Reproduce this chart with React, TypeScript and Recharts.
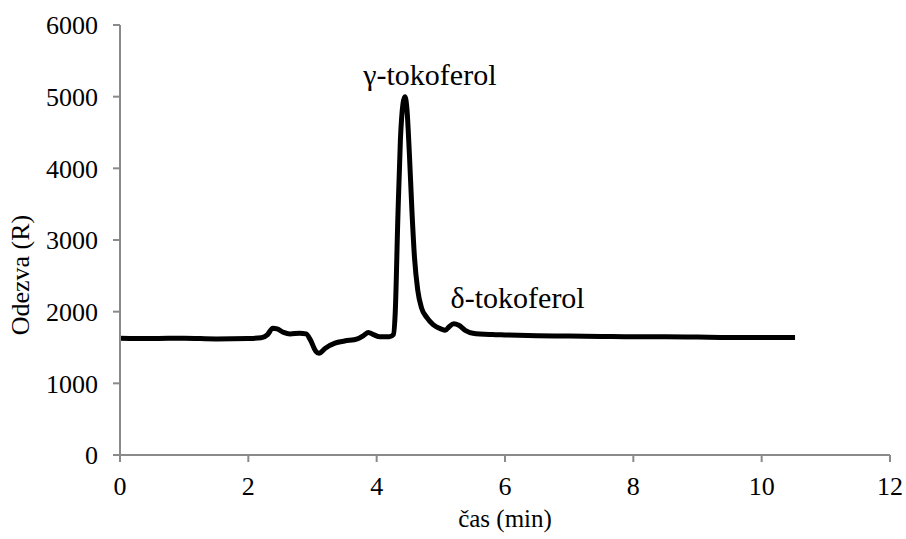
import React from "react";
import { LineChart, Line, XAxis, YAxis, ReferenceDot, Label } from "recharts";

// retention time (min) and detector response (R)
const TIME = [
  0, 0.5, 1.0, 1.5, 2.0, 2.2, 2.3, 2.38, 2.45, 2.55, 2.65, 2.8, 2.9, 2.97,
  3.05, 3.1, 3.2, 3.35, 3.5, 3.7, 3.8, 3.87, 3.95, 4.05, 4.2, 4.26, 4.29,
  4.33, 4.37, 4.41, 4.44, 4.47, 4.51, 4.55, 4.59, 4.64, 4.7, 4.78, 4.88,
  5.0, 5.07, 5.13, 5.2, 5.28, 5.38, 5.5, 5.8, 6.0, 6.5, 7.0, 7.5, 8.0, 8.5,
  9.0, 9.5, 10.0, 10.52,
];
const RESPONSE = [
  1630, 1625, 1630, 1620, 1625, 1635, 1680, 1770, 1760, 1710, 1690, 1700,
  1690, 1600, 1450, 1420, 1490, 1560, 1590, 1620, 1670, 1710, 1680, 1650,
  1650, 1680, 2000, 3300, 4400, 4900, 5000, 4850, 4200, 3400, 2750, 2300,
  2050, 1920, 1820, 1760, 1740, 1790, 1830, 1810, 1740, 1700, 1680, 1675,
  1665, 1660, 1655, 1650, 1650, 1645, 1640, 1640, 1640,
];

const X_TICKS = [0, 2, 4, 6, 8, 10, 12];
const Y_TICKS = [0, 1000, 2000, 3000, 4000, 5000, 6000];

const PEAKS = [
  { name: "γ-tokoferol", time: 4.44, value: 5000, dx: 25, dy: -12 },
  { name: "δ-tokoferol", time: 5.2, value: 1830, dx: 64, dy: -16 },
];

const data = TIME.map((t, i) => ({ t, r: RESPONSE[i] }));

const FONT = "'Times New Roman', Times, 'Liberation Serif', 'DejaVu Serif', serif";
const AXIS = "#8a8a8a";
const tickStyle = { fill: "#000", fontSize: 26, fontFamily: FONT };

export default function App() {
  return (
    <div
      style={{
        position: "absolute",
        left: 0,
        top: 0,
        background: "#fff",
        fontFamily: FONT,
      }}
    >
      <style>{`svg text { font-family: ${FONT} !important; }`}</style>
      <LineChart
        width={906}
        height={539}
        data={data}
        margin={{ top: 25, right: 16, bottom: 0, left: 0 }}
      >
        <XAxis
          dataKey="t"
          type="number"
          domain={[0, 12]}
          ticks={X_TICKS}
          height={84}
          stroke={AXIS}
          strokeWidth={2}
          tickSize={7}
          tickMargin={15}
          tick={tickStyle}
        >
          <Label
            value="čas (min)"
            position="insideBottom"
            offset={12}
            style={{ fill: "#000", fontSize: 25, fontFamily: FONT }}
          />
        </XAxis>
        <YAxis
          type="number"
          domain={[0, 6000]}
          ticks={Y_TICKS}
          width={120}
          stroke={AXIS}
          strokeWidth={2}
          tickSize={7}
          tickMargin={15}
          tick={tickStyle}
        >
          <Label
            content={() => (
              <text
                x={29}
                y={275}
                transform="rotate(-90, 29, 275)"
                textAnchor="middle"
                style={{ fill: "#000", fontSize: 26, fontFamily: FONT }}
              >
                Odezva (R)
              </text>
            )}
          />
        </YAxis>
        <Line
          type="monotone"
          dataKey="r"
          stroke="#000"
          strokeWidth={5}
          dot={false}
          isAnimationActive={false}
        />
        {PEAKS.map((p) => (
          <ReferenceDot
            key={p.name}
            x={p.time}
            y={p.value}
            r={0}
            stroke="none"
            label={(props: any) => {
              const vb = props.viewBox || {};
              return (
                <text
                  x={vb.x + p.dx}
                  y={vb.y + p.dy}
                  textAnchor="middle"
                  style={{ fill: "#000", fontSize: 30, fontFamily: FONT }}
                >
                  {p.name}
                </text>
              );
            }}
          />
        ))}
      </LineChart>
    </div>
  );
}
